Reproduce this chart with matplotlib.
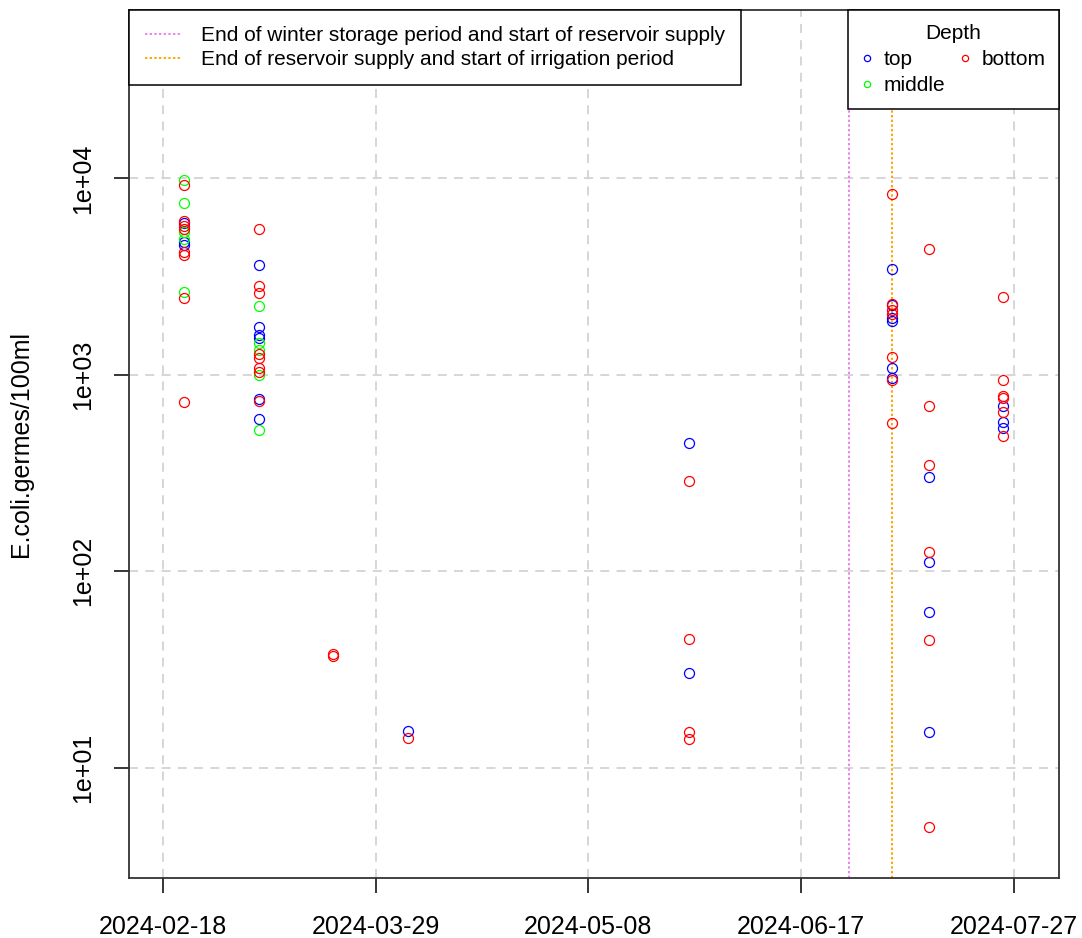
import numpy as np
import pandas as pd
import matplotlib
matplotlib.use("Agg")
import matplotlib.pyplot as plt
import matplotlib.dates as mdates
from matplotlib.lines import Line2D

plt.rcParams['font.family'] = ['Liberation Sans', 'DejaVu Sans']

# sampling dates and E. coli counts per depth (germes/100ml), one list per date
sample_dates = ['2024-02-22', '2024-03-07', '2024-03-21', '2024-04-04',
                '2024-05-27', '2024-07-04', '2024-07-11', '2024-07-25']

top_values = [
    [5900, 4750, 4580],
    [3620, 1760, 1590, 1540, 750, 595],
    [],
    [15.4],
    [451, 30.3],
    [3440, 2260, 1940, 1880, 1080, 960],
    [303, 111, 61.8, 15.2],
    [693, 577, 535],
]
middle_values = [
    [9800, 7450, 5330, 4920, 2640],
    [2240, 1450, 1340, 1000, 525],
    [], [], [], [], [], [],
]
bottom_values = [
    [9300, 6060, 5710, 5520, 4210, 4070, 2460, 727],
    [5500, 2830, 2600, 1270, 1220, 1080, 1030, 740],
    [38, 37],
    [14.2],
    [288, 45.1, 15.2, 14.0],
    [8320, 2290, 2140, 2050, 1230, 942, 566],
    [4390, 697, 348, 126, 44.9, 5.0],
    [2500, 942, 780, 759, 649, 488],
]

depth_names = ['top', 'middle', 'bottom']
depth_colors = ['#0000FF', '#00FF00', '#FF0000']

# period markers
period_dates = ['2024-06-26', '2024-07-04']
period_labels = ['End of winter storage period and start of reservoir supply',
                 'End of reservoir supply and start of irrigation period']
period_colors = ['violet', 'orange']

tick_dates = ['2024-02-18', '2024-03-29', '2024-05-08', '2024-06-17', '2024-07-27']
y_ticks = [10, 100, 1000, 10000]
y_tick_labels = ['1e+01', '1e+02', '1e+03', '1e+04']


def flatten(values):
    xs, ys = [], []
    for d, vals in zip(sample_dates, values):
        xs += [pd.Timestamp(d)] * len(vals)
        ys += vals
    return xs, ys


W, H = 1082, 938
fig = plt.figure(figsize=(W / 100, H / 100), dpi=100)
ax = fig.add_axes([129 / W, 1 - 878 / H, (1059 - 129) / W, (878 - 10) / H])

ax.set_yscale('log')

# grid first so points sit above it
for d in tick_dates:
    ax.axvline(pd.Timestamp(d), color='#D3D3D3', lw=1.3, ls=(0, (5, 4)), zorder=1)
for v in y_ticks:
    ax.axhline(v, color='#D3D3D3', lw=1.3, ls=(0, (5, 4)), zorder=1)

for d, c in zip(period_dates, period_colors):
    ax.axvline(pd.Timestamp(d), color=c, lw=1.4, ls=(0, (1.2, 1.2)), zorder=2)

for vals, c in zip([top_values, middle_values, bottom_values], depth_colors):
    xs, ys = flatten(vals)
    ax.plot(xs, ys, ls='none', marker='o', ms=7.2, mfc='none', mec=c, mew=0.9, zorder=3)

base = pd.Timestamp('2024-02-18')
ax.set_xlim(base - pd.Timedelta(days=6.4), base + pd.Timedelta(days=168.5))
ax.set_ylim(2.75, 71900)

ax.set_xticks([pd.Timestamp(d) for d in tick_dates])
ax.xaxis.set_major_formatter(mdates.DateFormatter('%Y-%m-%d'))
ax.set_yticks(y_ticks)
ax.set_yticklabels(y_tick_labels, rotation=90, va='center')
ax.yaxis.set_minor_locator(matplotlib.ticker.NullLocator())

ax.tick_params(axis='both', length=10.5, width=1.1, labelsize=18, color='black')
ax.tick_params(axis='x', pad=16)
ax.tick_params(axis='y', pad=14)
for s in ax.spines.values():
    s.set_linewidth(1.3)
    s.set_color('#333333')

ax.set_ylabel('E.coli.germes/100ml', fontsize=18, labelpad=27)

# legends
period_handles = [Line2D([], [], color=c, lw=1.4, ls=(0, (1.2, 1.2))) for c in period_colors]
leg1 = ax.legend(period_handles, period_labels, loc='upper left', bbox_to_anchor=(0, 1),
                 borderaxespad=0, fontsize=15, frameon=True, fancybox=False,
                 edgecolor='black', framealpha=1, handlelength=1.75, handletextpad=0.95,
                 labelspacing=0.25, borderpad=0.77)
leg1.get_frame().set_linewidth(1.1)
ax.add_artist(leg1)

depth_handles = [Line2D([], [], ls='none', marker='o', ms=4.5, mfc='none', mec=c, mew=0.9)
                 for c in depth_colors]
leg2 = ax.legend(depth_handles, depth_names, title='Depth', title_fontsize=15,
                 loc='upper right', bbox_to_anchor=(1, 1), borderaxespad=0, ncol=2,
                 fontsize=15, frameon=True, fancybox=False, edgecolor='black',
                 framealpha=1, handlelength=0.6, handletextpad=0.5, labelspacing=0.35,
                 columnspacing=0.62, borderpad=0.65)
leg2.get_frame().set_linewidth(1.1)

fig.savefig('out.png', dpi=100)
